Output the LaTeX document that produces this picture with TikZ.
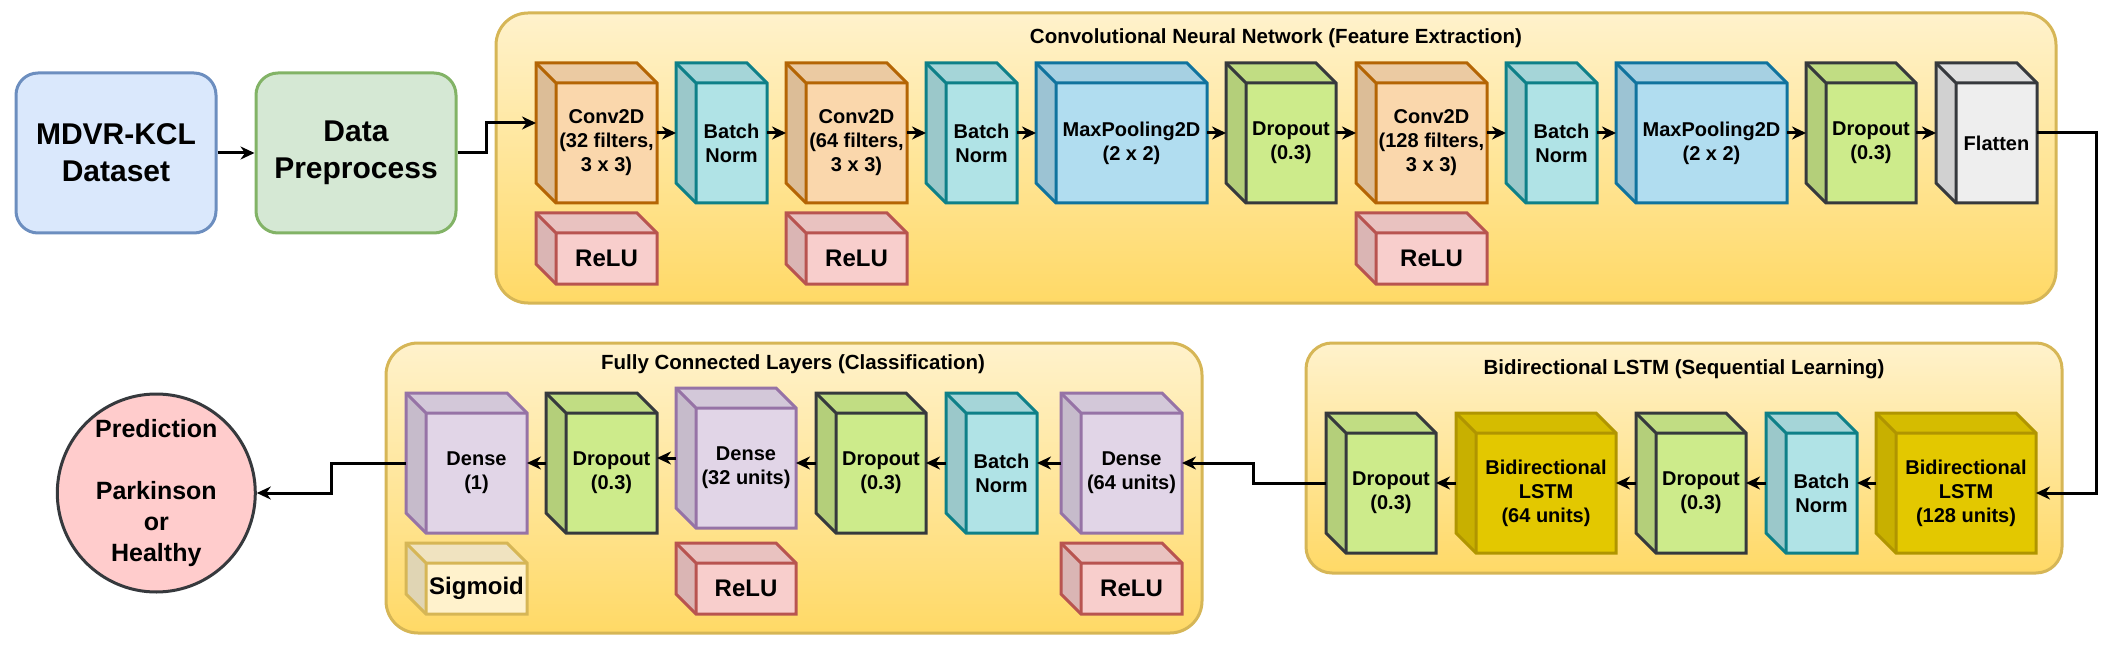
\documentclass[tikz,border=0pt]{standalone}
\usepackage{fontspec}
\setmainfont{Liberation Sans}
\usetikzlibrary{arrows.meta}
\definecolor{cconvf}{HTML}{FAD7AC}\definecolor{cconvs}{HTML}{B46504}
\definecolor{creluf}{HTML}{F8CECC}\definecolor{crelus}{HTML}{B85450}
\definecolor{cbnf}{HTML}{B0E3E6}\definecolor{cbns}{HTML}{0E8088}
\definecolor{cmpf}{HTML}{B1DDF0}\definecolor{cmps}{HTML}{10739E}
\definecolor{cdof}{HTML}{CDEB8B}\definecolor{cdark}{HTML}{36393D}
\definecolor{cflf}{HTML}{EEEEEE}
\definecolor{clstf}{HTML}{E3C800}\definecolor{clsts}{HTML}{B09500}
\definecolor{cdnf}{HTML}{E1D5E7}\definecolor{cdns}{HTML}{9673A6}
\definecolor{csigf}{HTML}{FFF2CC}\definecolor{csigs}{HTML}{D6B656}
\definecolor{cgtop}{HTML}{FFF2CC}\definecolor{cgbot}{HTML}{FFD966}
\definecolor{cblf}{HTML}{DAE8FC}\definecolor{cbls}{HTML}{6C8EBF}
\definecolor{cgrf}{HTML}{D5E8D4}\definecolor{cgrs}{HTML}{82B366}
\definecolor{cpredf}{HTML}{FFCCCC}
\newcommand\fl{\fontsize{20}{24}\selectfont\bfseries}
\newcommand\fr{\fontsize{24}{28}\selectfont\bfseries}
\newcommand\ft{\fontsize{20.5}{24}\selectfont\bfseries}
\newcommand\fbig{\fontsize{30}{37}\selectfont\bfseries}
\newcommand\fp{\fontsize{25}{31}\selectfont\bfseries}
% #1 name, #2 x, #3 y, #4 w, #5 h, #6 fill, #7 stroke, #8 font, #9 text
\newcommand\cubebox[9]{%
 \fill[#6!94!black] (#2,#3) -- ({#2+#4-20},#3) -- ({#2+#4},{#3+20}) -- ({#2+20},{#3+20}) -- cycle;
 \fill[#6!88!black] (#2,#3) -- ({#2+20},{#3+20}) -- ({#2+20},{#3+#5}) -- (#2,{#3+#5-20}) -- cycle;
 \fill[#6] ({#2+20},{#3+20}) rectangle ({#2+#4},{#3+#5});
 \draw[#7, line width=3pt, line join=miter] (#2,#3) -- ({#2+#4-20},#3) -- ({#2+#4},{#3+20}) -- ({#2+#4},{#3+#5}) -- ({#2+20},{#3+#5}) -- (#2,{#3+#5-20}) -- cycle;
 \draw[#7, line width=3pt] (#2,#3) -- ({#2+20},{#3+20}) -- ({#2+#4},{#3+20}) ({#2+20},{#3+20}) -- ({#2+20},{#3+#5});
 \node[inner sep=0, outer sep=0, minimum width=#4pt, minimum height=#5pt, anchor=north west] (#1) at (#2,#3) {};
 \node[align=center, font=#8, inner sep=0] (#1-t) at ({#2+(#4+20)/2},{#3+(#5+20)/2}) {#9};
}
\tikzset{
 arr/.style={line width=3pt, -{Stealth[length=14pt,width=13pt,inset=4.5pt]}},
 group/.style={draw=csigs, line width=3pt, top color=cgtop, bottom color=cgbot},
 bigbox/.style={line width=3pt, minimum width=200pt, minimum height=160pt, rounded corners=22pt, align=center, font=\fbig, inner sep=0},
}
\begin{document}
\begin{tikzpicture}[x=1pt,y=-1pt]
\useasboundingbox (0,0) rectangle (2111,660);
% containers
\path[group, rounded corners=32pt] (496,13) rectangle (2056,303);
\node[font=\ft] (cnnt) at (1276,38) {Convolutional Neural Network (Feature Extraction)};
\path[group, rounded corners=26pt] (1306,343) rectangle (2062,573);
\node[font=\ft] (lstmt) at (1684,369) {Bidirectional LSTM (Sequential Learning)};
\path[group, rounded corners=32pt] (386,343) rectangle (1202,633);
\node[font=\ft] (fct) at (793,364) {Fully Connected Layers (Classification)};
% input boxes
\node[bigbox, draw=cbls, fill=cblf] (mdvr) at (116,153) {MDVR-KCL\\Dataset};
\node[bigbox, draw=cgrs, fill=cgrf] (pre) at (356,153) {Data\\Preprocess};
% CNN cubes
\cubebox{conv1}{536}{63}{121}{140}{cconvf}{cconvs}{\fl}{Conv2D\\(32 filters,\\3 x 3)}
\cubebox{relu1}{536}{213}{121}{71}{creluf}{crelus}{\fr}{ReLU}
\cubebox{bn1}{676}{63}{91}{140}{cbnf}{cbns}{\fl}{Batch\\Norm}
\cubebox{conv2}{786}{63}{121}{140}{cconvf}{cconvs}{\fl}{Conv2D\\(64 filters,\\3 x 3)}
\cubebox{relu2}{786}{213}{121}{71}{creluf}{crelus}{\fr}{ReLU}
\cubebox{bn2}{926}{63}{91}{140}{cbnf}{cbns}{\fl}{Batch\\Norm}
\cubebox{mp1}{1036}{63}{171}{140}{cmpf}{cmps}{\fl}{MaxPooling2D\\(2 x 2)}
\cubebox{do1}{1226}{63}{110}{140}{cdof}{cdark}{\fl}{Dropout\\(0.3)}
\cubebox{conv3}{1356}{63}{131}{140}{cconvf}{cconvs}{\fl}{Conv2D\\(128 filters,\\3 x 3)}
\cubebox{relu3}{1356}{213}{131}{71}{creluf}{crelus}{\fr}{ReLU}
\cubebox{bn3}{1506}{63}{91}{140}{cbnf}{cbns}{\fl}{Batch\\Norm}
\cubebox{mp2}{1616}{63}{171}{140}{cmpf}{cmps}{\fl}{MaxPooling2D\\(2 x 2)}
\cubebox{do2}{1806}{63}{110}{140}{cdof}{cdark}{\fl}{Dropout\\(0.3)}
\cubebox{flat}{1936}{63}{101}{140}{cflf}{cdark}{\fl}{Flatten}
% LSTM cubes
\cubebox{doa}{1326}{413}{110}{140}{cdof}{cdark}{\fl}{Dropout\\(0.3)}
\cubebox{bi64}{1456}{413}{160}{140}{clstf}{clsts}{\fl}{Bidirectional\\LSTM\\(64 units)}
\cubebox{dob}{1636}{413}{110}{140}{cdof}{cdark}{\fl}{Dropout\\(0.3)}
\cubebox{bnl}{1766}{413}{91}{140}{cbnf}{cbns}{\fl}{Batch\\Norm}
\cubebox{bi128}{1876}{413}{160}{140}{clstf}{clsts}{\fl}{Bidirectional\\LSTM\\(128 units)}
% FC cubes
\cubebox{dense64}{1061}{393}{121}{140}{cdnf}{cdns}{\fl}{Dense\\(64 units)}
\cubebox{relu4}{1061}{543}{121}{71}{creluf}{crelus}{\fr}{ReLU}
\cubebox{bnf}{946}{393}{91}{140}{cbnf}{cbns}{\fl}{Batch\\Norm}
\cubebox{dof2}{816}{393}{110}{140}{cdof}{cdark}{\fl}{Dropout\\(0.3)}
\cubebox{dense32}{676}{388}{120}{140}{cdnf}{cdns}{\fl}{Dense\\(32 units)}
\cubebox{relu5}{676}{543}{120}{71}{creluf}{crelus}{\fr}{ReLU}
\cubebox{dof1}{546}{393}{111}{140}{cdof}{cdark}{\fl}{Dropout\\(0.3)}
\cubebox{dense1}{406}{393}{121}{140}{cdnf}{cdns}{\fl}{Dense\\(1)}
\cubebox{sig}{406}{543}{121}{71}{csigf}{csigs}{\fr}{Sigmoid}
% prediction
\node[circle, draw=cdark, fill=cpredf, line width=3pt, minimum size=198pt, inner sep=0, align=center, font=\fp] (pred) at (156.3,493) {Prediction\\[31pt]Parkinson\\or\\Healthy};
% junctions
\coordinate (j1) at (486,123);
\coordinate (j2) at (2096,493);
\coordinate (j3) at (1253,463);
\coordinate (j4) at (331,493);
% arrows
\draw[arr] (mdvr.east) -- (pre.west);
\draw[arr] (pre.east) -| (j1) -- (j1 -| conv1.west);
\draw[arr] (conv1.east) -- (bn1.west);
\draw[arr] (bn1.east) -- (conv2.west);
\draw[arr] (conv2.east) -- (bn2.west);
\draw[arr] (bn2.east) -- (mp1.west);
\draw[arr] (mp1.east) -- (do1.west);
\draw[arr] (do1.east) -- (conv3.west);
\draw[arr] (conv3.east) -- (bn3.west);
\draw[arr] (bn3.east) -- (mp2.west);
\draw[arr] (mp2.east) -- (do2.west);
\draw[arr] (do2.east) -- (flat.west);
\draw[arr] (flat.east) -| (j2) -- (j2 -| bi128.east);
\draw[arr] (bi128.west) -- (bnl.east);
\draw[arr] (bnl.west) -- (dob.east);
\draw[arr] (dob.west) -- (bi64.east);
\draw[arr] (bi64.west) -- (doa.east);
\draw[arr] (doa.west) -| (j3) -- (j3 -| dense64.east);
\draw[arr] (dense64.west) -- (bnf.east);
\draw[arr] (bnf.west) -- (dof2.east);
\draw[arr] (dof2.west) -- (dof2.west -| dense32.east);
\draw[arr] (dense32.west) -- (dense32.west -| dof1.east);
\draw[arr] (dof1.west) -- (dense1.east);
\draw[arr] (dense1.west) -| (j4) -- (pred.east);
\end{tikzpicture}
\end{document}
